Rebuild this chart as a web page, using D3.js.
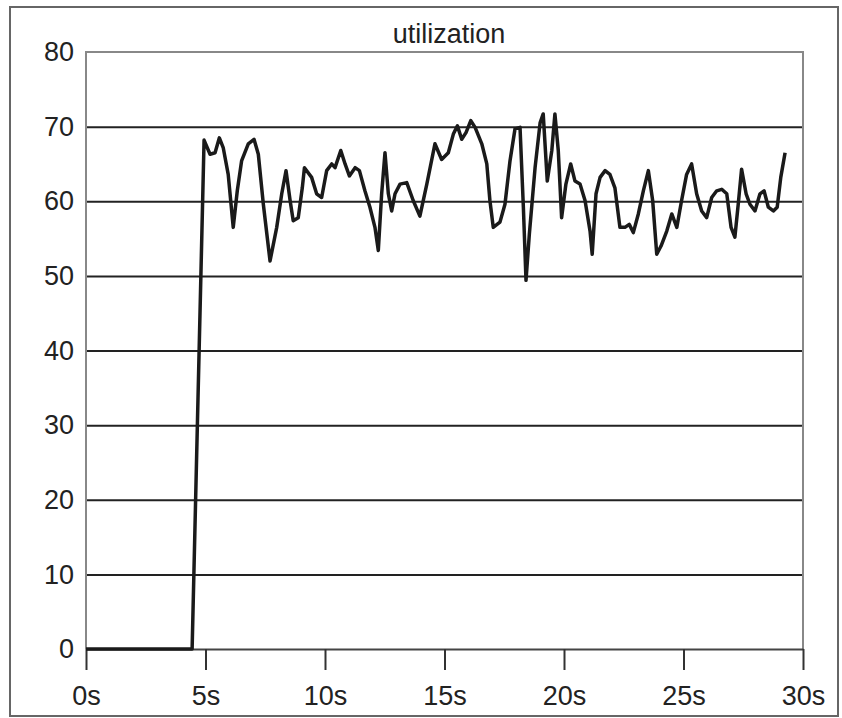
<!DOCTYPE html>
<html>
<head>
<meta charset="utf-8">
<script src="https://cdn.jsdelivr.net/npm/d3@7"></script>
<style>
  body { margin: 0; background: #fff; }
  text { font-family: "Liberation Sans", Arial, sans-serif; fill: #222; }
</style>
</head>
<body>
<div id="wrapper"></div>
<script>
// seconds since start
const times = [
  0, 4.44, 4.94, 5.19, 5.40, 5.58, 5.74, 5.95, 6.16, 6.33, 6.51, 6.79, 7.03, 7.21, 7.42, 7.70,
  7.98, 8.19, 8.37, 8.54, 8.67, 8.88, 9.05, 9.14, 9.44, 9.65, 9.86, 10.07, 10.28, 10.42, 10.66,
  10.84, 11.02, 11.26, 11.44, 11.67, 11.88, 12.09, 12.23, 12.37, 12.51, 12.65, 12.79, 12.93,
  13.14, 13.42, 13.69, 13.97, 14.26, 14.60, 14.88, 15.16, 15.37, 15.54, 15.72, 15.90, 16.10,
  16.28, 16.56, 16.77, 16.90, 17.04, 17.32, 17.53, 17.74, 17.95, 18.16, 18.30, 18.41, 18.55,
  18.79, 19.00, 19.13, 19.30, 19.49, 19.62, 19.76, 19.90, 20.08, 20.28, 20.46, 20.67, 20.88,
  21.09, 21.18, 21.34, 21.51, 21.72, 21.92, 22.13, 22.34, 22.55, 22.73, 22.90, 23.11, 23.32,
  23.53, 23.71, 23.88, 24.06, 24.30, 24.51, 24.72, 24.92, 25.13, 25.34, 25.55, 25.76, 25.97,
  26.18, 26.39, 26.60, 26.81, 26.99, 27.15, 27.29, 27.43, 27.62, 27.78, 27.99, 28.20, 28.37,
  28.55, 28.76, 28.92, 29.07, 29.25
]

// utilization (%)
const utilization = [
  0, 0, 68.2, 66.3, 66.5, 68.5, 67.2, 63.6, 56.5, 61.4, 65.4, 67.7, 68.3, 66.3, 59.6, 52.0,
  56.5, 61.0, 64.1, 60.1, 57.4, 57.8, 61.8, 64.5, 63.2, 61.0, 60.5, 64.1, 65.0, 64.5, 66.8,
  65.0, 63.4, 64.5, 64.1, 61.4, 59.2, 56.5, 53.4, 61.0, 66.5, 61.0, 58.7, 61.0,
  62.3, 62.5, 60.1, 58.0, 62.3, 67.7, 65.6, 66.5, 69.0, 70.1, 68.3, 69.2, 70.8,
  69.9, 67.7, 65.0, 60.1, 56.5, 57.2, 59.6, 65.4, 69.7, 69.9, 59.2, 49.4, 55.6,
  64.5, 70.5, 71.7, 62.7, 66.8, 71.7, 66.8, 57.8, 62.3, 65.0, 62.7, 62.3, 60.1,
  56.0, 52.9, 61.0, 63.2, 64.1, 63.6, 61.8, 56.5, 56.5, 56.9, 55.8, 58.3, 61.4,
  64.1, 60.1, 52.9, 54.0, 56.0, 58.3, 56.5, 60.1, 63.6, 65.0, 61.0, 58.7, 57.8,
  60.5, 61.4, 61.6, 61.0, 56.5, 55.2, 59.6, 64.3, 61.0, 59.6, 58.7, 61.0, 61.4,
  59.2, 58.7, 59.2, 63.2, 66.5
]

const xTicks = [0, 5, 10, 15, 20, 25, 30]
const yTicks = [0, 10, 20, 30, 40, 50, 60, 70, 80]

const data = times.map((t, i) => ({ t: t, u: utilization[i] }))

const xAccessor = d => d.t
const yAccessor = d => d.u

let dimensions = {
  width: 842,
  height: 718,
  margin: {
    top: 52,
    right: 39,
    bottom: 69,
    left: 86,
  },
}
dimensions.boundedWidth = dimensions.width - dimensions.margin.left - dimensions.margin.right
dimensions.boundedHeight = dimensions.height - dimensions.margin.top - dimensions.margin.bottom

const wrapper = d3.select("#wrapper")
  .append("svg")
    .attr("width", dimensions.width)
    .attr("height", dimensions.height)

// outer frame round the whole figure
wrapper.append("rect")
  .attr("x", 10)
  .attr("y", 7)
  .attr("width", dimensions.width - 14)
  .attr("height", dimensions.height - 9)
  .attr("fill", "none")
  .attr("stroke", "#666")
  .attr("stroke-width", 2)

const bounds = wrapper.append("g")
  .attr("transform", `translate(${dimensions.margin.left}, ${dimensions.margin.top})`)

const xScale = d3.scaleLinear()
  .domain([0, 30])
  .range([0, dimensions.boundedWidth])

const yScale = d3.scaleLinear()
  .domain([0, 80])
  .range([dimensions.boundedHeight, 0])

// gridlines + y labels
const yAxisGenerator = d3.axisLeft(yScale)
  .tickValues(yTicks)
  .tickSize(-dimensions.boundedWidth)
  .tickPadding(12)
const yAxis = bounds.append("g")
  .call(yAxisGenerator)
yAxis.select(".domain").remove()
yAxis.selectAll(".tick line")
  .attr("stroke", d => (d === 0 || d === 80) ? "none" : "#222")
  .attr("stroke-width", 2)
yAxis.selectAll(".tick text")
  .attr("font-size", 27)
  .attr("fill", "#222")

// plot border (top, left, right)
bounds.append("path")
  .attr("d", `M0,${yScale(0)}V${yScale(80)}H${xScale(30)}V${yScale(0)}`)
  .attr("fill", "none")
  .attr("stroke", "#888")
  .attr("stroke-width", 2)

const xAxisGenerator = d3.axisBottom(xScale)
  .tickValues(xTicks)
  .tickSize(21)
  .tickSizeOuter(0)
  .tickPadding(16)
  .tickFormat(d => d + "s")
const xAxis = bounds.append("g")
  .attr("transform", `translate(0, ${dimensions.boundedHeight})`)
  .call(xAxisGenerator)
xAxis.select(".domain")
  .attr("stroke", "#444")
  .attr("stroke-width", 2)
xAxis.selectAll(".tick line")
  .attr("stroke", "#333")
  .attr("stroke-width", 2)
xAxis.selectAll(".tick text")
  .attr("font-size", 27)
  .attr("fill", "#222")

const lineGenerator = d3.line()
  .x(d => xScale(xAccessor(d)))
  .y(d => yScale(yAccessor(d)))

bounds.append("path")
  .attr("d", lineGenerator(data))
  .attr("fill", "none")
  .attr("stroke", "#1a1a1a")
  .attr("stroke-width", 3.5)
  .attr("stroke-linejoin", "round")

wrapper.append("text")
  .attr("x", 449)
  .attr("y", 43)
  .attr("text-anchor", "middle")
  .attr("font-size", 27)
  .text("utilization")
</script>
</body>
</html>
